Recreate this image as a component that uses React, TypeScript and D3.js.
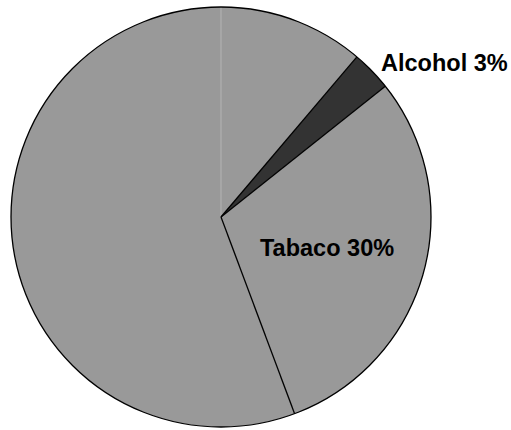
import React from "react";
import * as d3 from "d3";

const categories = ["Otros A", "Alcohol", "Tabaco", "Otros B"];
const values = [11.2, 3.1, 30, 55.7];
const labels = ["", "Alcohol 3%", "Tabaco 30%", ""];
const colors = ["#999999", "#333333", "#999999", "#999999"];

const W = 511;
const H = 430;
const cx = 221;
const cy = 217;
const R = 210;

export default function App() {
  const data = categories.map((c, i) => ({ c, v: values[i], i }));
  const pie = d3.pie<any>().sort(null).value((d) => d.v).startAngle(0).endAngle(2 * Math.PI);
  const arcs = pie(data);
  const arcGen = d3.arc<any>().innerRadius(0).outerRadius(R);
  const labelPos: Record<number, [number, number, string]> = {
    1: [381, 71, "start"],
    2: [260, 256, "start"],
  };
  return (
    <svg
      width={W}
      height={H}
      style={{ position: "absolute", left: 0, top: 0, background: "#fff" }}
    >
      <g transform={`translate(${cx},${cy})`}>
        {arcs.map((a, k) => (
          <path key={k} d={arcGen(a) as string} fill={colors[a.data.i]} stroke="none" />
        ))}
        {arcs.map((a, k) => {
          const ang = a.startAngle;
          const x = R * Math.sin(ang);
          const y = -R * Math.cos(ang);
          const faint = Math.abs(ang) < 1e-6;
          return (
            <line
              key={"l" + k}
              x1={0}
              y1={0}
              x2={x}
              y2={y}
              stroke={faint ? "#b4b4b4" : "#000"}
              strokeWidth={faint ? 1 : 1.3}
            />
          );
        })}
        <circle r={R} fill="none" stroke="#000" strokeWidth={1.3} />
      </g>
      {arcs.map((a, k) =>
        labels[a.data.i] ? (
          <text
            key={"t" + k}
            x={labelPos[a.data.i][0]}
            y={labelPos[a.data.i][1]}
            textAnchor={labelPos[a.data.i][2] as any}
            fontFamily="Liberation Sans, Arial, sans-serif"
            fontWeight="bold"
            fontSize={23.5}
            fill="#000"
          >
            {labels[a.data.i]}
          </text>
        ) : null
      )}
    </svg>
  );
}
